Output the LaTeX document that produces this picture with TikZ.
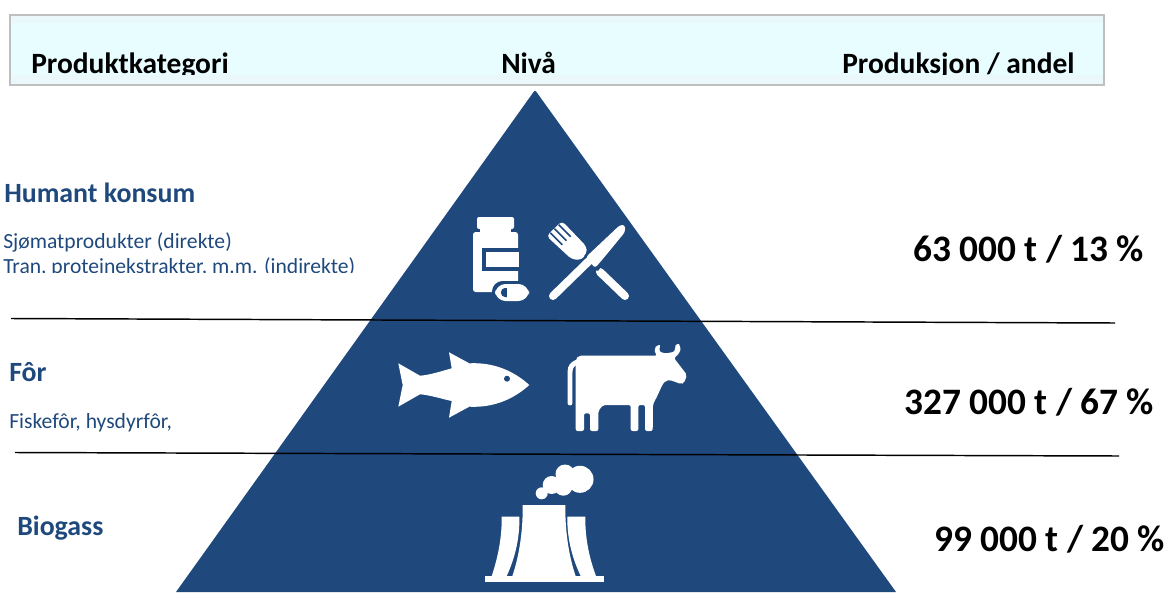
\documentclass[tikz,border=0pt]{standalone}
\usepackage{fontspec}
\setmainfont{Carlito}
\definecolor{navy}{HTML}{1F497D}
\definecolor{headfill}{HTML}{E8FDFF}
\definecolor{headband}{HTML}{EAF7FB}
\definecolor{headline}{HTML}{BFBFBF}
\tikzset{
  head/.style = {anchor=base west,inner sep=0pt,font=\fontsize{22.1}{26}\bfseries\selectfont,text=black},
  cat/.style = {anchor=base west,inner sep=0pt,font=\fontsize{20.9}{25}\bfseries\selectfont,text=navy},
  sub/.style = {anchor=base west,inner sep=0pt,font=\fontsize{16.2}{19}\selectfont,text=navy},
  amount/.style = {anchor=base west,inner sep=0pt,font=\fontsize{28}{33}\bfseries\selectfont,text=black},
  divider/.style = {draw=black,line width=1.1pt},
  icon/.style = {fill=white,draw=none},
  hole/.style = {fill=navy,draw=none},
}
\begin{document}
\begin{tikzpicture}[x=0.75pt,y=-0.75pt]
    \useasboundingbox (0,0) rectangle (1166,592);

    % header bar
    \fill[headfill] (10,15) rectangle (1104,85);
    \fill[headband] (10,15) rectangle (1104,23);
    \fill[headband] (10,75) rectangle (1104,85);
    \draw[headline,line width=1.1pt] (10,15) rectangle (1104,85);
    \begin{scope}
      \clip (10,15) rectangle (1104,74.5);
      \node[head] at (31,73.5) (kategori) {Produktkategori};
      \node[head] at (501,73.5) (niva) {Nivå};
      \node[head] at (842,73.5) (andel) {Produksjon / andel};
    \end{scope}

    % pyramid
    \fill[navy] (176,592) [rounded corners=1.5pt] -- (535,90) [sharp corners] -- (896,592) -- cycle;

    % bottle
    \fill[icon,rounded corners=1.5pt] (477,217) rectangle (514,229);
    \fill[icon] (480,228) rectangle (511,234);
    \fill[icon,rounded corners=2pt] (473,232) rectangle (518,292);
    \fill[hole] (482,248) rectangle (519,271);
    \fill[icon] (486,252) rectangle (519,267);
    \fill[hole,rounded corners=8pt] (492,281) rectangle (532,304);
    \fill[icon,rounded corners=8pt] (495,284) rectangle (529,301);
    \fill[hole,rounded corners=3pt] (501,288) rectangle (512,297);
    \fill[icon] (507,287) rectangle (513,298);

    % knife and fork
    \draw[white,line width=6pt,line cap=round] (600,272) -- (625,296);
    \fill[icon,rounded corners=3pt] (546.5,236) -- (562,221) -- (586.7,246.7) -- (586.7,253) -- (581.7,260) -- (571.7,259.3) -- cycle;
    \draw[navy,line width=1.2pt] (550.3,232.8) -- ++(12,12);
    \draw[navy,line width=1.2pt] (554.5,228.7) -- ++(12,12);
    \draw[navy,line width=1.2pt] (558.7,224.7) -- ++(12,12);
    \draw[navy,line width=8pt] (556,293) -- (592,258);
    \fill[hole] (584,256) -- (618,224) -- (626,232) -- (598,271) -- (592,267) -- cycle;
    \draw[white,line width=6pt,line cap=round] (553,296) -- (592,258);
    \fill[icon,rounded corners=2pt] (586,257) -- (620,225) -- (625,225) -- (625,232) -- (602,260) -- (595,268) -- cycle;

    % fish
    \fill[icon] (398.3,363.3) -- (420,375.7) .. controls (430,375) and (442,371) .. (451.7,368.3)
      -- (449,352.3) -- (469.3,363.3) .. controls (495,362) and (515,372) .. (529.3,385)
      .. controls (515,398) and (495,408) .. (469.3,406.7) -- (449,417.7) -- (451.7,401)
      .. controls (442,399) and (430,395) .. (420,394.3) -- (398.3,406.7) -- (402.7,385) -- cycle;
    \fill[hole] (507,378.7) circle (3);

    % cow
    \draw[white,line width=3.7pt,line cap=round] (570,403) -- (570,372) .. controls (570,366) and (573,364) .. (577,362);
    \fill[icon,rounded corners=1.5pt] (575.7,431) -- (575.7,363) .. controls (576,358) and (578,355.7) .. (583,355.7)
      -- (657,355.7) .. controls (654,351) and (655,348) .. (656.7,345) .. controls (658,345) and (660,345) .. (660,347)
      .. controls (659,352) and (662,353) .. (666,353) .. controls (671,353) and (675,352) .. (675,347)
      .. controls (676,344) and (679,344) .. (680,346) .. controls (681,351) and (678,355) .. (674,358)
      -- (687,375) -- (684,383) -- (681,384) -- (670,380) .. controls (662,381) and (661,390) .. (653,404)
      -- (652.7,431) -- (645,431) -- (645,405) -- (638.3,405) -- (638.3,431) -- (630.7,431) -- (630.7,405)
      -- (603,405) -- (598.3,411) -- (598.3,431) -- (590,431) -- (590,413.3) -- (584,413.3) -- (584,431) -- cycle;

    % plant
    \fill[icon] (491.7,576) .. controls (497,560) and (502,540) .. (501.7,516.7) -- (519.3,516.7)
      .. controls (520,540) and (514,560) .. (506.7,576) -- cycle;
    \fill[icon] (596,576) .. controls (590,560) and (585,540) .. (585.3,516.7) -- (567.3,516.7)
      .. controls (567,540) and (573,560) .. (580.7,576) -- cycle;
    \fill[icon] (512,577) .. controls (518,560) and (523,535) .. (522.7,505) -- (565.3,505)
      .. controls (565,535) and (570,560) .. (576,577) -- cycle;
    \fill[icon] (485,576) rectangle (604,581.7);
    \fill[icon] (541.7,493.3) circle (6);
    \fill[icon] (551.7,485) circle (9);
    \fill[icon] (563.3,486.7) circle (9);
    \fill[icon] (565,474) circle (9.5);
    \fill[icon] (580,479.3) circle (13.5);

    % left column
    \node[cat] at (4,202) (human) {Humant konsum};
    \node[sub] at (3,248.5) (sjomat) {Sjømatprodukter (direkte)};
    \begin{scope}
      \clip (0,255) rectangle (400,272.5);
      \node[sub] at (3,273.5) (tran) {Tran, proteinekstrakter, m.m. (indirekte)};
    \end{scope}
    \node[cat] at (9,381.5) (for) {Fôr};
    \node[sub] at (9,428) (fisk) {Fiskefôr, hysdyrfôr,};
    \node[cat] at (17,535.5) (biogass) {Biogass};

    % right column
    \node[amount] at (913,261.5) (a1) {63 000 t / 13 \%};
    \node[amount] at (904,414.5) (a2) {327 000 t / 67 \%};
    \node[amount] at (934,551.5) (a3) {99 000 t / 20 \%};

    % level lines
    \coordinate (l1a) at (11,318.5);
    \coordinate (l1b) at (1115,323);
    \coordinate (l2a) at (15,452.5);
    \coordinate (l2b) at (1119,456);
    \draw[divider] (l1a) -- (l1b);
    \draw[divider] (l2a) -- (l2b);

\end{tikzpicture}
\end{document}
